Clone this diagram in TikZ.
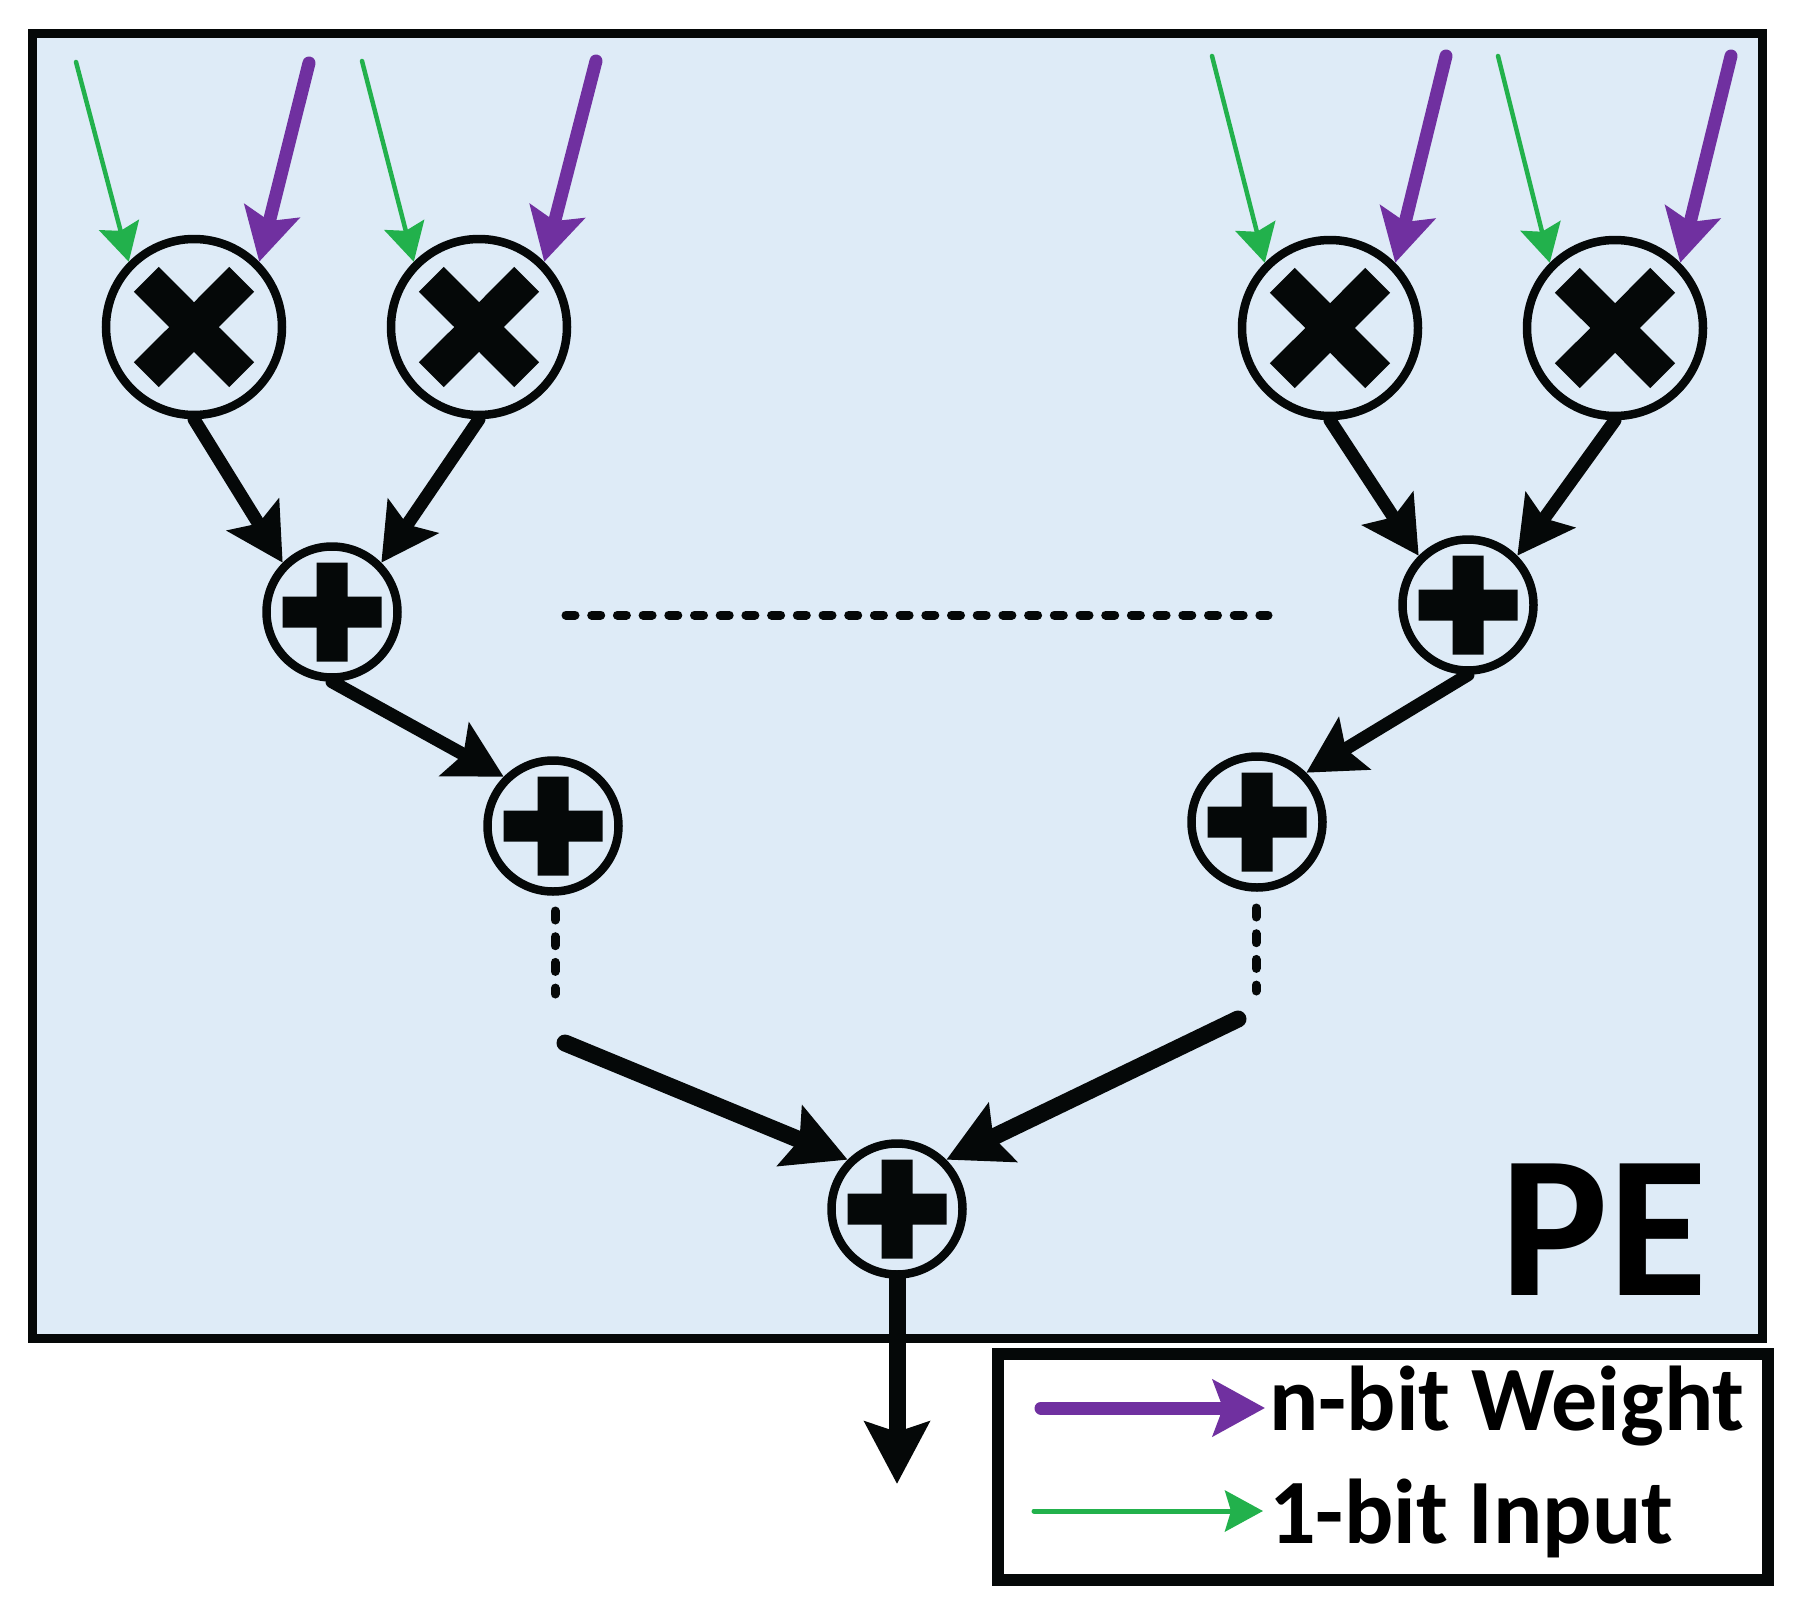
\documentclass[tikz,border=0pt]{standalone}
\usepackage{fontspec}
\setmainfont{Carlito}
\usetikzlibrary{arrows.meta}
\definecolor{peblue}{HTML}{DEEBF7}
\definecolor{wgtpurple}{HTML}{7030A0}
\definecolor{inpgreen}{HTML}{22B14C}
\definecolor{ink}{HTML}{050808}

\begin{document}
\begin{tikzpicture}[x=1pt,y=-1pt,
  mulnode/.style={circle,draw=ink,line width=8.5pt,minimum size=176pt,inner sep=0pt,
    path picture={\fill[ink,shift={(path picture bounding box.center)}] (0pt,24.75pt) -- (35.3pt,60.1pt) -- (60.1pt,35.3pt) -- (24.75pt,0pt) -- (60.1pt,-35.3pt) -- (35.3pt,-60.1pt) -- (0pt,-24.75pt) -- (-35.3pt,-60.1pt) -- (-60.1pt,-35.3pt) -- (-24.75pt,0pt) -- (-60.1pt,35.3pt) -- (-35.3pt,60.1pt) -- cycle;}},
  addnode/.style={circle,draw=ink,line width=8.5pt,minimum size=131pt,inner sep=0pt,
    path picture={\fill[ink,shift={(path picture bounding box.center)}] (-49.5pt,-15.5pt) rectangle (49.5pt,15.5pt) (-15.5pt,-49.5pt) rectangle (15.5pt,49.5pt);}},
  wgt/.style={draw=wgtpurple,line width=13pt,line cap=round,-{Stealth[length=52pt,width=56pt,inset=10pt]}},
  inp/.style={draw=inpgreen,line width=4.5pt,line cap=round,-{Stealth[length=38pt,width=41pt,inset=6pt]}},
  psum/.style={draw=ink,line width=13pt,line cap=round,-{Stealth[length=56pt,width=60pt,inset=10pt]}},
  tsum/.style={draw=ink,line width=17pt,line cap=round,-{Stealth[length=62pt,width=64pt,inset=10pt]}},
  elide/.style={draw=ink,line width=9pt,line cap=round,dash pattern=on 9pt off 16.7pt},
  legtext/.style={anchor=base west,inner sep=0pt,font=\bfseries\fontsize{92}{104}\selectfont}]
  \useasboundingbox (0,0) rectangle (1808,1622);
  \draw[draw=ink,line width=9pt,fill=peblue] (32,33) rectangle (1762,1338);

  \node[mulnode] (m1) at (194,327) {};
  \node[mulnode] (m2) at (479,327) {};
  \node[mulnode] (m3) at (1330,328) {};
  \node[mulnode] (m4) at (1615,328) {};
  \node[addnode] (a1) at (332,612) {};
  \node[addnode] (a2) at (1468,605) {};
  \node[addnode] (a3) at (553,826) {};
  \node[addnode] (a4) at (1257,822) {};
  \node[addnode] (a5) at (897,1209) {};
  \node[anchor=base west,inner sep=0pt,font=\bfseries\fontsize{203}{240}\selectfont] (pe) at (1500,1295) {PE};

  \coordinate (g1) at (76,62);
  \coordinate (w1) at (309,63);
  \coordinate (g2) at (362,61);
  \coordinate (w2) at (596,61);
  \coordinate (g3) at (1212,56);
  \coordinate (w3) at (1446,56);
  \coordinate (g4) at (1498,56);
  \coordinate (w4) at (1731,56);
  \coordinate (dl) at (566,615);
  \coordinate (dr) at (1268,615);
  \coordinate (d3a) at (555,911);
  \coordinate (d3b) at (555,994);
  \coordinate (d4a) at (1256,908);
  \coordinate (d4b) at (1256,991);
  \coordinate (f3) at (565,1043);
  \coordinate (f4) at (1238,1019);
  \coordinate (out) at (897,1484);

  \draw[inp] (g1) -- (m1.north west);
  \draw[wgt] (w1) -- (m1.north east);
  \draw[inp] (g2) -- (m2.north west);
  \draw[wgt] (w2) -- (m2.north east);
  \draw[inp] (g3) -- (m3.north west);
  \draw[wgt] (w3) -- (m3.north east);
  \draw[inp] (g4) -- (m4.north west);
  \draw[wgt] (w4) -- (m4.north east);

  \draw[psum] (m1.south) -- (a1.north west);
  \draw[psum] (m2.south) -- (a1.north east);
  \draw[psum] (m3.south) -- (a2.north west);
  \draw[psum] (m4.south) -- (a2.north east);
  \draw[psum] (a1.south) -- (a3.north west);
  \draw[psum] (a2.south) -- (a4.north east);
  \draw[elide] (dl) -- (dr);
  \draw[elide] (d3a) -- (d3b);
  \draw[elide] (d4a) -- (d4b);
  \draw[tsum] (f3) -- (a5.north west);
  \draw[tsum] (f4) -- (a5.north east);
  \draw[tsum] (a5.south) -- (out);

  \draw[draw=ink,line width=12pt,fill=white] (998,1354) rectangle (1768,1580);
  \coordinate (wl0) at (1041,1408);
  \coordinate (wl1) at (1265,1408);
  \coordinate (il0) at (1034,1511);
  \coordinate (il1) at (1263,1511);
  \draw[wgt] (wl0) -- (wl1);
  \draw[inp,line width=5pt] (il0) -- (il1);
  \node[legtext] (wlab) at (1269,1430) {n-bit Weight};
  \node[legtext] (ilab) at (1269,1543) {1-bit Input};
\end{tikzpicture}
\end{document}
